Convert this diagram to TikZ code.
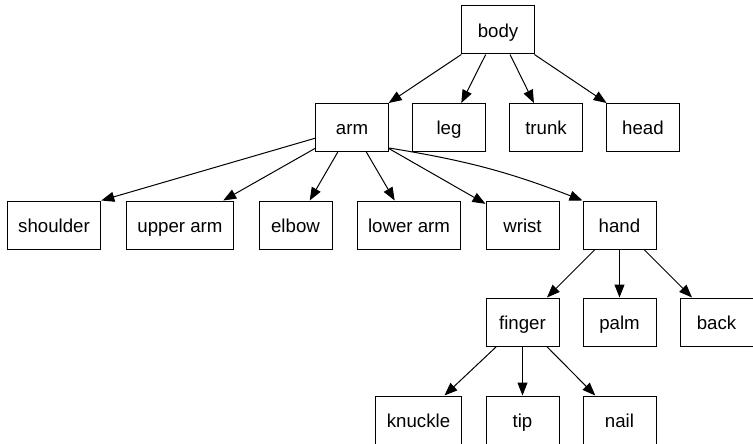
\documentclass[tikz,border=0pt]{standalone}
\usepackage{fontspec}
\setmainfont{Liberation Sans}
\usetikzlibrary{arrows.meta}
\begin{document}
\begin{tikzpicture}[x=1pt,y=-1pt,
  box/.style={draw=black, line width=1pt, rectangle, minimum width=73pt, minimum height=48pt, inner xsep=11pt, text height=16pt, text depth=1.5pt, font=\fontsize{18.67}{22}\selectfont},
  edge/.style={draw=black, line width=1pt, -{Triangle[length=13pt,width=10pt]}}]
\useasboundingbox (0,0) rectangle (753,444);
\node[box] (body) at (498,30) {body};
\node[box] (arm) at (352,127.5) {arm};
\node[box] (leg) at (449,127.5) {leg};
\node[box] (trunk) at (546,127.5) {trunk};
\node[box] (head) at (643,127.5) {head};
\node[box] (shoulder) at (54,225) {shoulder};
\node[box] (upperarm) at (180,225) {upper arm};
\node[box] (elbow) at (295.5,225) {elbow};
\node[box] (lowerarm) at (409,225) {lower arm};
\node[box] (wrist) at (522.5,225) {wrist};
\node[box] (hand) at (619.5,225) {hand};
\node[box] (finger) at (522.5,322) {finger};
\node[box] (palm) at (619.5,322) {palm};
\node[box] (back) at (716.5,322) {back};
\node[box] (knuckle) at (418.5,420) {knuckle};
\node[box] (tip) at (522.5,420) {tip};
\node[box] (nail) at (619.5,420) {nail};
\draw[edge] (body) -- (arm);
\draw[edge] (body) -- (leg);
\draw[edge] (body) -- (trunk);
\draw[edge] (body) -- (head);
\draw[edge] (arm) -- (shoulder.north east);
\draw[edge] (arm) -- (upperarm);
\draw[edge] (arm) -- (elbow);
\draw[edge] (arm) -- (lowerarm);
\draw[edge] (arm) -- (wrist);
\draw[edge] (arm.east |- 0,148) to[bend left=6] (hand.north west);
\draw[edge] (hand) -- (finger);
\draw[edge] (hand) -- (palm);
\draw[edge] (hand) -- (back);
\draw[edge] (finger) -- (knuckle);
\draw[edge] (finger) -- (tip);
\draw[edge] (finger) -- (nail);
\end{tikzpicture}
\end{document}
